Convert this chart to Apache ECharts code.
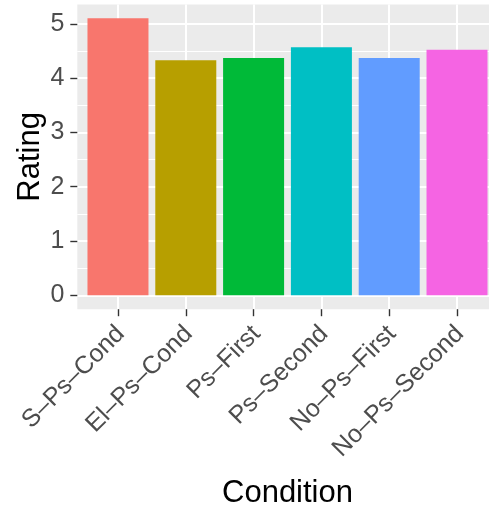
<!DOCTYPE html>
<html>
<head>
<meta charset="utf-8">
<script src="https://cdn.jsdelivr.net/npm/echarts@6/dist/echarts.min.js"></script>
<style>html,body{margin:0;padding:0;background:#fff;}#c{width:489px;height:508px;}</style>
</head>
<body>
<div id="c"></div>
<script>
const categories = ['S–Ps–Cond', 'El–Ps–Cond', 'Ps–First', 'Ps–Second', 'No–Ps–First', 'No–Ps–Second'];
const ratings = [5.10, 4.33, 4.37, 4.57, 4.37, 4.52];
const barColors = ['#F8766D', '#B79F00', '#00BA38', '#00BFC4', '#619CFF', '#F564E3'];
const yTicks = [0, 1, 2, 3, 4, 5];
const yMinorTicks = [0.5, 1.5, 2.5, 3.5, 4.5];

const positions = categories.map((c, i) => i + 1);
const yMax = Math.max(...ratings);
const yPad = 0.05 * yMax;
const font = 'Liberation Sans, Arial, Helvetica, sans-serif';

const chart = echarts.init(document.getElementById('c'), null, {renderer: 'canvas'});
chart.setOption({
  animation: false,
  backgroundColor: '#ffffff',
  grid: {
    left: 77.3, top: 4.5, width: 420.4, height: 304.7,
    show: true, backgroundColor: '#EBEBEB', borderWidth: 0,
    containLabel: false, outerBoundsMode: 'none'
  },
  xAxis: {
    type: 'value', min: 0.4, max: 6.6,
    name: 'Condition', nameLocation: 'middle', nameGap: 169, nameMoveOverlap: false,
    nameTextStyle: {fontFamily: font, fontSize: 31, color: '#000000'},
    axisLine: {show: false, onZero: false},
    axisTick: {show: true, length: 7, customValues: positions, lineStyle: {color: '#333333', width: 1.4}},
    axisLabel: {
      customValues: positions, rotate: 45, align: 'right', verticalAlign: 'top',
      lineHeight: 8, margin: 18, showMinLabel: true, showMaxLabel: true, hideOverlap: false,
      fontFamily: font, fontSize: 25, color: '#4D4D4D',
      formatter: v => categories[Math.round(v) - 1]
    },
    splitLine: {show: true, lineStyle: {color: '#ffffff', width: 2}}
  },
  yAxis: [{
    type: 'value', min: -yPad, max: yMax + yPad,
    name: 'Rating', nameLocation: 'middle', nameGap: 31, nameRotate: 90, nameMoveOverlap: false,
    nameTextStyle: {fontFamily: font, fontSize: 31, color: '#000000'},
    axisLine: {show: false, onZero: false},
    axisTick: {show: true, length: 7, customValues: yTicks, lineStyle: {color: '#333333', width: 1.4}},
    axisLabel: {customValues: yTicks, margin: 13, showMinLabel: true, showMaxLabel: true, fontFamily: font, fontSize: 25, color: '#4D4D4D'},
    splitLine: {show: true, lineStyle: {color: '#ffffff', width: 2}}
  }, {
    type: 'value', min: -yPad, max: yMax + yPad, position: 'left',
    axisLine: {show: false, onZero: false},
    axisTick: {show: false, customValues: yMinorTicks},
    axisLabel: {show: false},
    splitLine: {show: true, lineStyle: {color: '#ffffff', width: 1}}
  }],
  series: [{
    type: 'bar',
    barWidth: 61,
    data: ratings.map((v, i) => ({value: [positions[i], v], itemStyle: {color: barColors[i]}})),
    itemStyle: {borderWidth: 0}
  }]
});
</script>
</body>
</html>
